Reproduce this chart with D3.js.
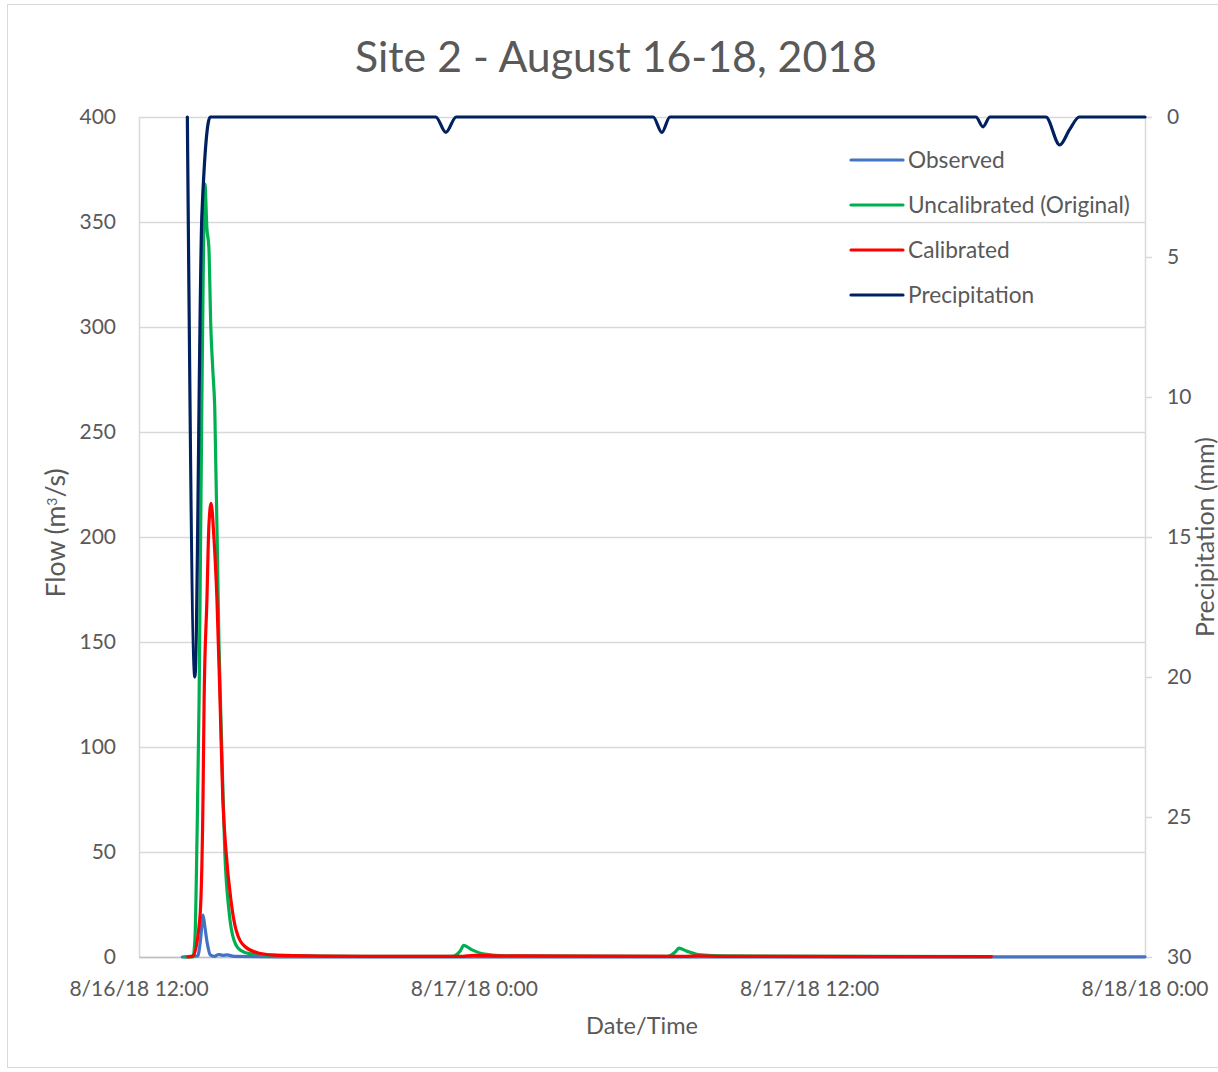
<!DOCTYPE html>
<html><head><meta charset="utf-8">
<script src="https://cdn.jsdelivr.net/npm/d3@7"></script>
<style>
body{margin:0;background:#fff}
text{font-family:Lato,"Open Sans",sans-serif;fill:#595959}
</style>
</head><body>
<svg id="c" width="1218" height="1072"></svg>
<script>
// ---------- data ----------
const chartTitle = "Site 2 - August 16-18, 2018";
const startTime = new Date(2018, 7, 16, 12, 0);
const endTime = new Date(2018, 7, 18, 0, 0);
const xTickHours = [0, 12, 24, 36];
const xTickLabels = ["8/16/18 12:00", "8/17/18 0:00", "8/17/18 12:00", "8/18/18 0:00"];
const flowTicks = [0, 50, 100, 150, 200, 250, 300, 350, 400];
const precipTicks = [0, 5, 10, 15, 20, 25, 30];
const seriesNames = ["Observed", "Uncalibrated (Original)", "Calibrated", "Precipitation"];
const seriesColors = ["#4472C4", "#00B050", "#FF0000", "#002060"];

// hours after 8/16/18 12:00
const observedHours = [1.55, 2.1, 2.2, 2.29, 2.36, 2.45, 2.55, 2.7, 2.85, 3.0, 3.15, 3.4, 5.0, 36.0];
const observedFlow  = [0,    0.5, 8,   20,   14,   6,    1,    0.3, 1.2,  0.8, 1.0,  0.3, 0.1, 0.1];

const uncalHours = [1.65, 1.93, 2.0, 2.08, 2.15, 2.25, 2.36, 2.43, 2.5, 2.57, 2.64, 2.71, 2.86, 2.96, 3.07, 3.22, 3.4, 3.65, 4.0, 5.0, 8.0, 11.2, 11.5, 11.62, 11.9, 12.3, 13.0, 18.9, 19.2, 19.32, 19.6, 20.0, 21.0, 30.5];
const uncalFlow  = [0,    0,    8,   60,   122,  265,  368,  347,  338, 300,  280,  262,  150,  100,  50,   22,   8,   3,    1.5, 0.8, 0.3, 0.3,  3,    5.5,   3.5,  1.5,  0.6,  0.3,  2.5,  4.2,   2.8,  1.2,  0.5,  0.2];

const calHours = [1.75, 1.93, 2.18, 2.29, 2.33, 2.43, 2.5, 2.58, 2.68, 2.79, 2.9, 3.0, 3.11, 3.29, 3.47, 3.79, 4.3, 5.0, 8.0, 11.5, 12.0, 13.0, 19.5, 20.0, 21.0, 30.5];
const calFlow  = [0,    0.5,  19,   75,   122,  170,  205, 216,  200,  170,  122, 75,  51,   27,   13,   5,    1.8, 0.8, 0.3, 0.3,  0.8,  0.5,  0.3,  0.6,  0.3,  0.2];

const precipHours = [1.73, 2.0, 2.25, 2.55, 10.62, 10.98, 11.35, 18.4, 18.71, 19.0, 29.95, 30.2, 30.45, 32.45, 32.95, 33.3, 33.65, 36.0];
const precipMm    = [0,    20,  3.5,  0,    0,     0.55,  0,     0,    0.55,  0,    0,     0.35, 0,     0,     1.0,   0.45, 0,     0];

// ---------- layout ----------
const svg = d3.select("#c");
const L = 139, R = 1145, T = 117, B = 957;
const toDate = h => new Date(startTime.getTime() + h * 3600e3);

const x = d3.scaleTime().domain([startTime, endTime]).range([L, R]);
const yFlow = d3.scaleLinear().domain([0, 400]).range([B, T]);
const yPrec = d3.scaleLinear().domain([0, 30]).range([T, B]);

function fit(sel, target) {
  const fs = parseFloat(sel.style("font-size"));
  const w = sel.node().getComputedTextLength();
  sel.style("font-size", (fs * target / w) + "px");
}

// chart frame
svg.append("rect").attr("x", 7.5).attr("y", 4.5).attr("width", 1240).attr("height", 1063)
  .attr("fill", "none").attr("stroke", "#d9d9d9").attr("stroke-width", 1);

// gridlines
svg.append("g").selectAll("line").data(flowTicks).join("line")
  .attr("x1", L).attr("x2", R)
  .attr("y1", d => Math.round(yFlow(d)) + 0.5).attr("y2", d => Math.round(yFlow(d)) + 0.5)
  .attr("stroke", "#d9d9d9").attr("stroke-width", 1.5);

// axis lines
svg.append("line").attr("x1", L + 0.5).attr("x2", L + 0.5).attr("y1", T).attr("y2", B)
  .attr("stroke", "#d9d9d9").attr("stroke-width", 1.5);
svg.append("line").attr("x1", R + 0.5).attr("x2", R + 0.5).attr("y1", T).attr("y2", B)
  .attr("stroke", "#d9d9d9").attr("stroke-width", 1.5);
svg.append("line").attr("x1", L).attr("x2", R).attr("y1", B + 0.5).attr("y2", B + 0.5)
  .attr("stroke", "#bfbfbf").attr("stroke-width", 1.5);

// right axis ticks
svg.append("g").selectAll("line").data(precipTicks).join("line")
  .attr("x1", R).attr("x2", R + 7)
  .attr("y1", d => Math.round(yPrec(d)) + 0.5).attr("y2", d => Math.round(yPrec(d)) + 0.5)
  .attr("stroke", "#d9d9d9").attr("stroke-width", 1.5);

// tick labels
const tickFont = "21px";
svg.append("g").selectAll("text").data(flowTicks).join("text")
  .attr("x", 116).attr("y", d => yFlow(d)).attr("dy", "0.35em")
  .attr("text-anchor", "end").style("font-size", tickFont).text(d => d);
svg.append("g").selectAll("text").data(precipTicks).join("text")
  .attr("x", 1167).attr("y", d => yPrec(d)).attr("dy", "0.35em")
  .attr("text-anchor", "start").style("font-size", tickFont).text(d => d);
svg.append("g").selectAll("text").data(xTickHours).join("text")
  .attr("x", d => x(toDate(d))).attr("y", 996)
  .attr("text-anchor", "middle").style("font-size", tickFont).text((d, i) => xTickLabels[i]);

// titles
const title = svg.append("text").attr("x", 616).attr("y", 72).attr("text-anchor", "middle")
  .style("font-size", "40px").text(chartTitle);
fit(title, 522);

const xt = svg.append("text").attr("x", 642).attr("y", 1034).attr("text-anchor", "middle")
  .style("font-size", "22px").text("Date/Time");
fit(xt, 112);

const yt = svg.append("text").attr("transform", "translate(65,533) rotate(-90)")
  .attr("text-anchor", "middle").style("font-size", "22px");
yt.append("tspan").text("Flow (m");
yt.append("tspan").attr("dy", -8).style("font-size", "14px").text("3");
yt.append("tspan").attr("dy", 8).text("/s)");
fit(yt, 131);

const yt2 = svg.append("text").attr("transform", "translate(1214,537) rotate(-90)")
  .attr("text-anchor", "middle").style("font-size", "22px").text("Precipitation (mm)");
fit(yt2, 200);

// series
const flowLine = d3.line().x(d => x(toDate(d[0]))).y(d => yFlow(d[1])).curve(d3.curveMonotoneX);
const precLine = d3.line().x(d => x(toDate(d[0]))).y(d => yPrec(d[1])).curve(d3.curveMonotoneX);

const series = [
  {pts: d3.zip(observedHours, observedFlow), gen: flowLine, c: seriesColors[0]},
  {pts: d3.zip(uncalHours, uncalFlow), gen: flowLine, c: seriesColors[1]},
  {pts: d3.zip(calHours, calFlow), gen: flowLine, c: seriesColors[2]},
  {pts: d3.zip(precipHours, precipMm), gen: precLine, c: seriesColors[3]}
];
series.forEach(s => {
  svg.append("path").attr("d", s.gen(s.pts)).attr("fill", "none")
    .attr("stroke", s.c).attr("stroke-width", 3.2)
    .attr("stroke-linejoin", "round").attr("stroke-linecap", "round");
});

// legend
const lg = svg.append("g");
const legY = [160, 205, 250, 295];
seriesNames.forEach((n, i) => {
  lg.append("line").attr("x1", 851).attr("x2", 903).attr("y1", legY[i]).attr("y2", legY[i])
    .attr("stroke", seriesColors[i]).attr("stroke-width", 3.2).attr("stroke-linecap", "round");
  lg.append("text").attr("x", 908).attr("y", legY[i]).attr("dy", "0.35em")
    .style("font-size", "21px").attr("class", "leg").text(n);
});
const longest = lg.selectAll("text.leg").filter((d, i) => i === 1);
const fs0 = 21, w0 = longest.node().getComputedTextLength();
lg.selectAll("text.leg").style("font-size", (fs0 * 222 / w0) + "px");
</script>
</body></html>
